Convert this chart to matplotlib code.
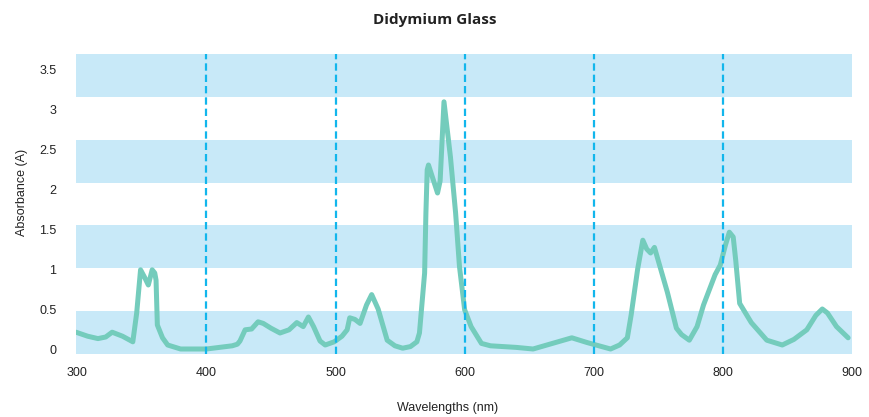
import matplotlib
matplotlib.use("Agg")
import matplotlib.pyplot as plt
import numpy as np

wavelengths = [299, 308, 316, 322, 327, 335, 343, 346, 349, 352, 355, 358, 360,
               361, 362, 366, 370, 380, 400, 420, 424, 426, 430, 435, 440, 444,
               450, 457, 464, 470, 475, 479, 483, 488, 492, 499, 505, 509, 511,
               515, 519, 524, 528, 533, 540, 546, 552, 558, 563, 565, 569, 570,
               571, 572, 575, 579, 581, 584, 589, 593, 596, 600, 605, 613, 620,
               640, 653, 668, 683, 695, 713, 720, 726, 729, 734, 738, 741, 744,
               747, 757, 764, 768, 774, 780, 785, 794, 798, 802, 805, 808, 810,
               813, 822, 834, 846, 855, 865, 872, 877, 881, 888, 897]
absorbance = [0.21, 0.16, 0.13, 0.15, 0.21, 0.16, 0.09, 0.45, 0.99, 0.90, 0.80, 0.99, 0.95,
              0.86, 0.30, 0.14, 0.05, 0.00, 0.00, 0.04, 0.06, 0.10, 0.24, 0.25, 0.34, 0.32,
              0.26, 0.20, 0.24, 0.33, 0.28, 0.40, 0.28, 0.10, 0.05, 0.09, 0.16, 0.24, 0.39,
              0.37, 0.32, 0.55, 0.68, 0.50, 0.11, 0.04, 0.01, 0.03, 0.09, 0.20, 0.95, 1.70,
              2.24, 2.30, 2.15, 1.95, 2.10, 3.09, 2.40, 1.70, 1.03, 0.49, 0.28, 0.07, 0.04,
              0.02, 0.00, 0.07, 0.14, 0.08, 0.00, 0.05, 0.14, 0.43, 1.00, 1.36, 1.25, 1.20,
              1.27, 0.71, 0.26, 0.18, 0.11, 0.28, 0.55, 0.93, 1.05, 1.30, 1.46, 1.40, 1.10,
              0.57, 0.33, 0.11, 0.05, 0.12, 0.24, 0.42, 0.50, 0.45, 0.28, 0.14]
x_ticks = [300, 400, 500, 600, 700, 800, 900]
y_ticks = [0, 0.5, 1, 1.5, 2, 2.5, 3, 3.5]
y_tick_labels = ["0", "0.5", "1", "1.5", "2", "2.5", "3", "3.5"]
grid_lines = [400, 500, 600, 700, 800]

fig = plt.figure(figsize=(8.7, 4.17), dpi=100)
ax = fig.add_axes([76/870, 1-354/417, (852-76)/870, 300/417])
ylim = (-0.0625, 3.6875)
xlim = (299, 900)
ax.set_xlim(*xlim)
ax.set_ylim(*ylim)

edges = np.linspace(ylim[0], ylim[1], 8)
for i in range(0, 7, 2):
    ax.axhspan(edges[i], edges[i+1], color="#c8e9f8", lw=0, zorder=0)

ax.plot(wavelengths, absorbance, color="#74ccbc", lw=3.6,
        solid_joinstyle="round", solid_capstyle="round", zorder=2)

for g in grid_lines:
    ax.axvline(g, color="#12b6ec", lw=1.6, dashes=(3.3, 1.8), zorder=3)

for s in ax.spines.values():
    s.set_visible(False)
ax.tick_params(length=0, labelsize=9, colors="#222222")
ax.tick_params(axis="y", pad=14)
ax.tick_params(axis="x", pad=9)
ax.set_xticks(x_ticks)
ax.set_yticks(y_ticks)
ax.set_yticklabels(y_tick_labels)
for lab in ax.get_xticklabels() + ax.get_yticklabels():
    lab.set_fontfamily("Liberation Sans")

fig.text(22/870, 1-192/417, "Absorbance (A)", rotation=90, ha="center", va="center",
         fontsize=9, family="Liberation Sans", color="#222222")
fig.text(448/870, 1-408/417, "Wavelengths (nm)", ha="center", va="center",
         fontsize=9, family="Liberation Sans", color="#222222")
fig.text(435/870, 1-20/417, "Didymium Glass", ha="center", va="center",
         fontsize=11, fontweight="bold", family="Open Sans", color="#222222")

fig.savefig("out.png", dpi=100)
